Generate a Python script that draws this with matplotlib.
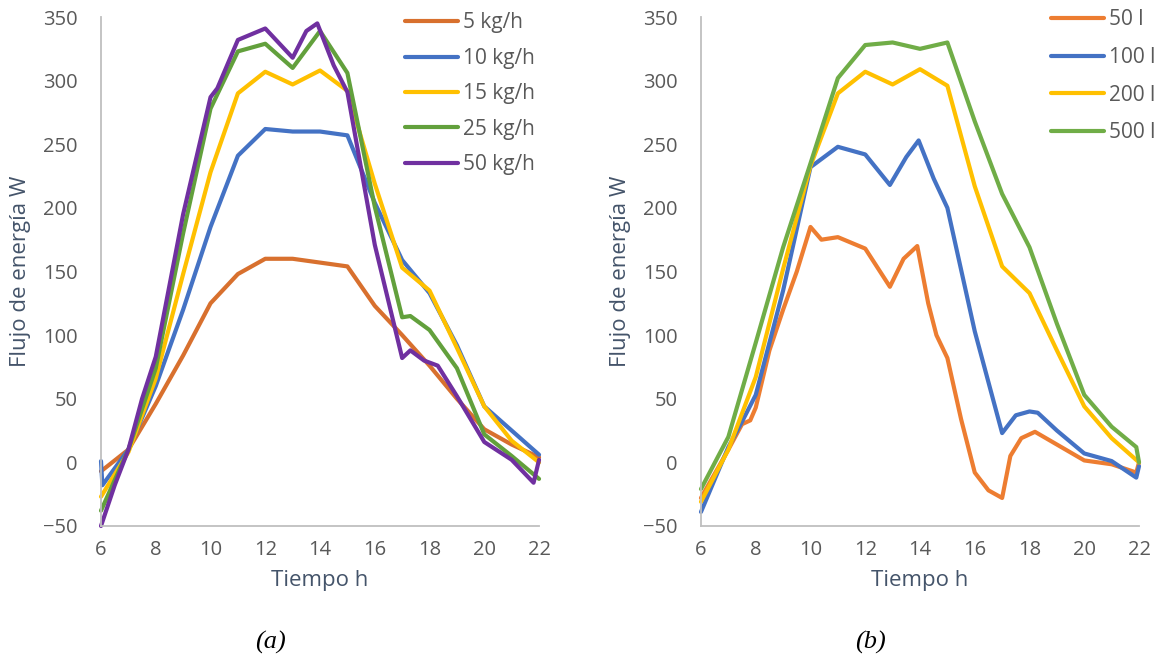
import matplotlib.pyplot as plt

plt.rcParams['font.family'] = ['Open Sans', 'DejaVu Sans']

# ---- panel (a): flujo masico ----
a_labels = ["5 kg/h", "10 kg/h", "15 kg/h", "25 kg/h", "50 kg/h"]
a_colors = ["#D8702E", "#4472C4", "#FFC000", "#62A03C", "#7030A0"]

a5_x = [6, 7, 8, 9, 10, 11, 12, 13, 14, 15, 16, 17, 18, 19, 20, 21, 22]
a5_y = [-7, 10, 46, 84, 125, 148, 160, 160, 157, 154, 123, 100, 76, 50, 26, 14, 4]

a10_x = [6, 6.05, 7, 8, 9, 10, 11, 12, 13, 14, 15, 16, 17, 18, 19, 20, 21, 22]
a10_y = [1, -18, 10, 60, 120, 185, 241, 262, 260, 260, 257, 204, 159, 133, 92, 44, 25, 6]

a15_x = [6, 7, 8, 9, 10, 11, 12, 13, 14, 15, 16, 17, 18, 19, 20, 21, 22]
a15_y = [-27, 8, 66, 148, 228, 290, 307, 297, 308, 292, 219, 153, 135, 90, 44, 17, 0]

a25_x = [6, 7, 8, 9, 10, 11, 12, 13, 14, 15, 16, 17, 17.3, 18, 19, 20, 21, 22]
a25_y = [-38, 10, 74, 180, 278, 323, 329, 310, 339, 306, 201, 114, 115, 104, 74, 22, 5, -13]

a50_x = [6, 6.5, 7, 7.5, 8, 9, 10, 10.25, 11, 12, 13, 13.5, 13.9, 14.5, 15, 16, 17, 17.3, 17.8, 18.3, 19, 20, 21, 21.8, 22]
a50_y = [-50, -18, 10, 50, 83, 195, 287, 294, 332, 341, 318, 339, 345, 312, 291, 171, 82, 88, 80, 76, 52, 16, 2, -16, 2]

# ---- panel (b): volumen del tanque ----
b_labels = ["50 l", "100 l", "200 l", "500 l"]
b_colors = ["#ED7D31", "#4472C4", "#FFC000", "#70AD47"]

b50_x = [6, 7, 7.5, 7.8, 8.0, 8.5, 9, 9.5, 10, 10.4, 11, 12, 12.9, 13.4, 13.9, 14.3, 14.6, 15, 15.5, 16, 16.5, 17, 17.3, 17.7, 18.2, 19, 20, 21, 21.9, 22]
b50_y = [-28, 10, 30, 33, 43, 88, 120, 150, 185, 175, 177, 168, 138, 160, 170, 125, 100, 82, 34, -8, -22, -28, 5, 19, 24, 14, 1.5, -1.5, -8, 0]

b100_x = [6, 7, 7.5, 8, 9, 10, 11, 12, 12.9, 13.5, 13.95, 14.5, 15, 16, 17, 17.5, 18, 18.3, 19, 20, 21, 21.9, 22]
b100_y = [-39, 12, 32, 53, 135, 232, 248, 242, 218, 240, 253, 223, 200, 103, 23, 37, 40, 39, 25, 7, 1, -12, -3]

b200_x = [6, 7, 8, 9, 10, 11, 12, 13, 14, 15, 16, 17, 18, 19, 20, 21, 22]
b200_y = [-31, 10, 67, 152, 233, 290, 307, 297, 309, 296, 217, 154, 133, 88, 44, 19, 0]

b500_x = [6, 7, 8, 9, 10, 11, 12, 13, 14, 15, 16, 17, 18, 19, 20, 21, 21.9, 22]
b500_y = [-21, 20, 94, 169, 235, 302, 328, 330, 325, 330, 268, 211, 169, 109, 53, 28, 12, 0]

a_series = [(a5_x, a5_y), (a10_x, a10_y), (a15_x, a15_y), (a25_x, a25_y), (a50_x, a50_y)]
b_series = [(b50_x, b50_y), (b100_x, b100_y), (b200_x, b200_y), (b500_x, b500_y)]

TICK_C = "#595959"
LABEL_C = "#44546A"
AXIS_C = "#BFBFBF"

fig = plt.figure(figsize=(11.65, 6.55), dpi=100)
ax_a = fig.add_axes([0.0867, 0.197, 0.376, 0.777])
ax_b = fig.add_axes([0.6017, 0.197, 0.376, 0.777])


def style_axes(ax):
    ax.set_xlim(6, 22)
    ax.set_ylim(-50, 350)
    ax.set_xticks(range(6, 23, 2))
    ax.set_yticks(range(-50, 351, 50))
    for s in ["top", "right"]:
        ax.spines[s].set_visible(False)
    for s in ["left", "bottom"]:
        ax.spines[s].set_color(AXIS_C)
        ax.spines[s].set_linewidth(1.3)
    ax.tick_params(axis="both", length=0, labelsize=14.5, labelcolor=TICK_C)
    ax.tick_params(axis="y", pad=17)
    ax.tick_params(axis="x", pad=10)
    ax.set_xlabel("Tiempo h", fontsize=16, color=LABEL_C, va="center")
    ax.set_ylabel("Flujo de energía W", fontsize=16, color=LABEL_C, va="center")
    ax.xaxis.set_label_coords(0.5, -0.108)
    ax.yaxis.set_label_coords(-0.183, 0.5)
    ax.set_facecolor("none")


for (xs, ys), lab, col in zip(a_series, a_labels, a_colors):
    ax_a.plot(xs, ys, color=col, lw=3, label=lab, solid_joinstyle="round",
              solid_capstyle="round", clip_on=False)
for (xs, ys), lab, col in zip(b_series, b_labels, b_colors):
    ax_b.plot(xs, ys, color=col, lw=3, label=lab, solid_joinstyle="round",
              solid_capstyle="round", clip_on=False)

style_axes(ax_a)
style_axes(ax_b)

for ax, x0, y0, sp in [(ax_a, 0.3476, 0.981, 0.69), (ax_b, 0.902, 0.986, 0.80)]:
    leg = ax.legend(loc="upper left", bbox_to_anchor=(x0, y0),
                    bbox_transform=fig.transFigure, frameon=False,
                    fontsize=15, handlelength=2.55, handletextpad=0.25,
                    labelspacing=sp, borderpad=0, borderaxespad=0)
    for t in leg.get_texts():
        t.set_color(TICK_C)

fig.text(270 / 1165, 0.0198, "(a)", family="Liberation Serif", style="italic",
         fontsize=19, ha="center", va="center")
fig.text(870 / 1165, 0.0198, "(b)", family="Liberation Serif", style="italic",
         fontsize=19, ha="center", va="center")

fig.savefig("out.png", dpi=100, facecolor="white")
